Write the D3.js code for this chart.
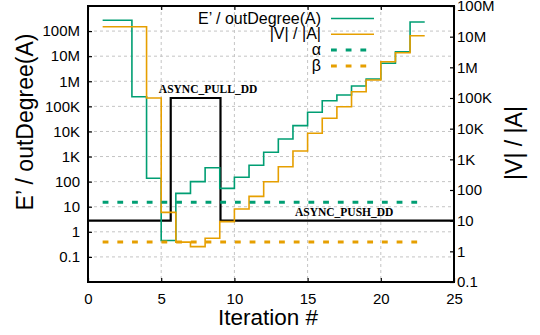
<!DOCTYPE html>
<html>
<head>
<meta charset="utf-8">
<script src="https://cdn.jsdelivr.net/npm/d3@7"></script>
<style>
    body { margin: 0; background: #ffffff; overflow: hidden; }
    svg { display: block; font-family: "Liberation Sans", Arial, sans-serif; }
    .grid line { stroke: #c4c4c4; stroke-width: 1; stroke-dasharray: 3,3; }
    .axis text { font-size: 15px; fill: #000; }
    .axis line { stroke: #000; stroke-width: 1.2; }
    .axis path { display: none; }
    .mode-label { font-family: "Liberation Serif", "Times New Roman", serif; font-weight: bold; font-size: 11.5px; }
</style>
</head>
<body>
<div id="chart"></div>
<script>
const iterations = [1, 2, 3, 4, 5, 6, 7, 8, 9, 10, 11, 12, 13, 14, 15, 16, 17, 18, 19, 20, 21, 22, 23];
// E' / outDegree(A), left axis
const edgeRatio = [2.7e8, 2.7e8, 2.4e5, 136, 0.45, 34, 100, 360, 54, 149, 450, 1480, 5000, 17000, 58000,
    168000, 284000, 650000, 1.23e6, 5.2e6, 1.5e7, 2.3e8, 2.3e8];
// |V| / |A|, right axis
const vertexRatio = [2.1e7, 2.1e7, 2.1e7, 1.0e5, 18.7, 2, 1.42, 2.66, 9.3, 24, 62, 186, 575, 1870, 7050,
    21800, 52000, 160000, 386000, 1.52e6, 3.0e6, 1.07e7, 1.07e7];
const alphaValue = 15;
const betaValue = 2;
// direction switches (right axis): low = ASYNC_PUSH_DD, high = ASYNC_PULL_DD
const modeX = [0, 5.65, 9.05, 25];
const modeY = [10, 1e5, 10, 10];

const xTicks = [0, 5, 10, 15, 20, 25];
const yTicks = [0.1, 1, 10, 100, 1e3, 1e4, 1e5, 1e6, 1e7, 1e8];
const yTickLabels = ["0.1", "1", "10", "100", "1K", "10K", "100K", "1M", "10M", "100M"];
const legendNames = ["E\u2019 / outDegree(A)", "|V| / |A|", "\u03b1", "\u03b2"];

const GREEN = "#009e73";
const ORANGE = "#e69f00";

const width = 540;
const height = 335;
const margin = { top: 6, right: 86, bottom: 53, left: 88 };
const innerWidth = width - margin.left - margin.right;
const innerHeight = height - margin.top - margin.bottom;

const svg = d3.select("#chart")
    .append("svg")
    .attr("width", width)
    .attr("height", height);

const chart = svg.append("g")
    .attr("transform", `translate(${margin.left},${margin.top})`);

const x = d3.scaleLinear().domain([0, 25]).range([0, innerWidth]);
const yLeft = d3.scaleLog().domain([0.01, 1e9]).range([innerHeight, 0]);
const yRight = d3.scaleLog().domain([0.1, 1e8]).range([innerHeight, 0]);

// grid
chart.append("g")
    .attr("class", "grid")
    .selectAll("line.h")
    .data(yTicks)
    .enter()
    .append("line")
    .attr("x1", 0)
    .attr("x2", innerWidth)
    .attr("y1", d => yLeft(d))
    .attr("y2", d => yLeft(d));

chart.append("g")
    .attr("class", "grid")
    .selectAll("line.v")
    .data(xTicks.slice(1, -1))
    .enter()
    .append("line")
    .attr("x1", d => x(d))
    .attr("x2", d => x(d))
    .attr("y1", 0)
    .attr("y2", innerHeight);

// axes, ticks pointing inward
chart.append("g")
    .attr("class", "axis")
    .call(d3.axisLeft(yLeft).tickValues(yTicks).tickFormat((d, i) => yTickLabels[i])
        .tickSizeInner(-4).tickSizeOuter(0).tickPadding(8));

chart.append("g")
    .attr("class", "axis")
    .attr("transform", `translate(${innerWidth},0)`)
    .call(d3.axisRight(yRight).tickValues(yTicks).tickFormat((d, i) => yTickLabels[i])
        .tickSizeInner(-4).tickSizeOuter(0).tickPadding(3));

chart.append("g")
    .attr("class", "axis")
    .attr("transform", `translate(0,${innerHeight})`)
    .call(d3.axisBottom(x).tickValues(xTicks).tickSizeInner(-4).tickSizeOuter(0).tickPadding(11));

chart.append("g")
    .attr("class", "axis")
    .call(d3.axisTop(x).tickValues(xTicks).tickFormat("").tickSizeInner(-4).tickSizeOuter(0));

// direction line
const modeLine = d3.line()
    .x((d, i) => x(modeX[i]))
    .y(d => yRight(d))
    .curve(d3.curveStepAfter);

chart.append("path")
    .datum(modeY)
    .attr("d", modeLine)
    .attr("fill", "none")
    .attr("stroke", "#000")
    .attr("stroke-width", 2.2);

// step series
const edgeLine = d3.line()
    .x((d, i) => x(iterations[i]))
    .y(d => yLeft(d))
    .curve(d3.curveStepAfter);

const vertexLine = d3.line()
    .x((d, i) => x(iterations[i]))
    .y(d => yRight(d))
    .curve(d3.curveStepAfter);

chart.append("path")
    .datum(edgeRatio)
    .attr("d", edgeLine)
    .attr("fill", "none")
    .attr("stroke", GREEN)
    .attr("stroke-width", 1.6);

chart.append("path")
    .datum(vertexRatio)
    .attr("d", vertexLine)
    .attr("fill", "none")
    .attr("stroke", ORANGE)
    .attr("stroke-width", 1.6);

// thresholds
const first = iterations[0];
const last = iterations[iterations.length - 1];

chart.append("line")
    .attr("x1", x(first))
    .attr("x2", x(last))
    .attr("y1", yLeft(alphaValue))
    .attr("y2", yLeft(alphaValue))
    .attr("stroke", GREEN)
    .attr("stroke-width", 3)
    .attr("stroke-dasharray", "5.8,8.9");

chart.append("line")
    .attr("x1", x(first))
    .attr("x2", x(last))
    .attr("y1", yRight(betaValue))
    .attr("y2", yRight(betaValue))
    .attr("stroke", ORANGE)
    .attr("stroke-width", 3)
    .attr("stroke-dasharray", "5.8,8.9");

// mode labels
chart.append("text")
    .attr("class", "mode-label")
    .attr("x", x(8.2))
    .attr("y", yRight(1e5) - 5)
    .attr("text-anchor", "middle")
    .text("ASYNC_PULL_DD");

chart.append("text")
    .attr("class", "mode-label")
    .attr("x", x(17.5))
    .attr("y", yRight(10) - 5)
    .attr("text-anchor", "middle")
    .text("ASYNC_PUSH_DD");

// frame
chart.append("rect")
    .attr("width", innerWidth)
    .attr("height", innerHeight)
    .attr("fill", "none")
    .attr("stroke", "#000")
    .attr("stroke-width", 2);

// legend
const legendStyles = [
    { color: GREEN, dash: null },
    { color: ORANGE, dash: null },
    { color: GREEN, dash: "5.8,8.9" },
    { color: ORANGE, dash: "5.8,8.9" }
];

const legend = svg.append("g")
    .attr("transform", "translate(331,18.5)");

const legendRow = legend.selectAll(".legend-row")
    .data(legendNames)
    .enter()
    .append("g")
    .attr("transform", (_, i) => `translate(0,${i * 15.8})`);

legendRow.append("line")
    .attr("x1", 0)
    .attr("x2", 43)
    .attr("stroke", (_, i) => legendStyles[i].color)
    .attr("stroke-width", (_, i) => legendStyles[i].dash ? 3 : 1.6)
    .attr("stroke-dasharray", (_, i) => legendStyles[i].dash);

legendRow.append("text")
    .attr("x", -10)
    .attr("y", 5)
    .attr("text-anchor", "end")
    .style("font-size", "16px")
    .text(d => d);

// axis titles
svg.append("text")
    .attr("transform", "translate(33,122) rotate(-90)")
    .attr("text-anchor", "middle")
    .style("font-size", "23px")
    .text("E\u2019 / outDegree(A)");

svg.append("text")
    .attr("transform", "translate(522,143) rotate(-90)")
    .attr("text-anchor", "middle")
    .style("font-size", "23px")
    .text("|V| / |A|");

svg.append("text")
    .attr("x", 268)
    .attr("y", 325)
    .attr("text-anchor", "middle")
    .style("font-size", "22.5px")
    .text("Iteration #");
</script>
</body>
</html>
